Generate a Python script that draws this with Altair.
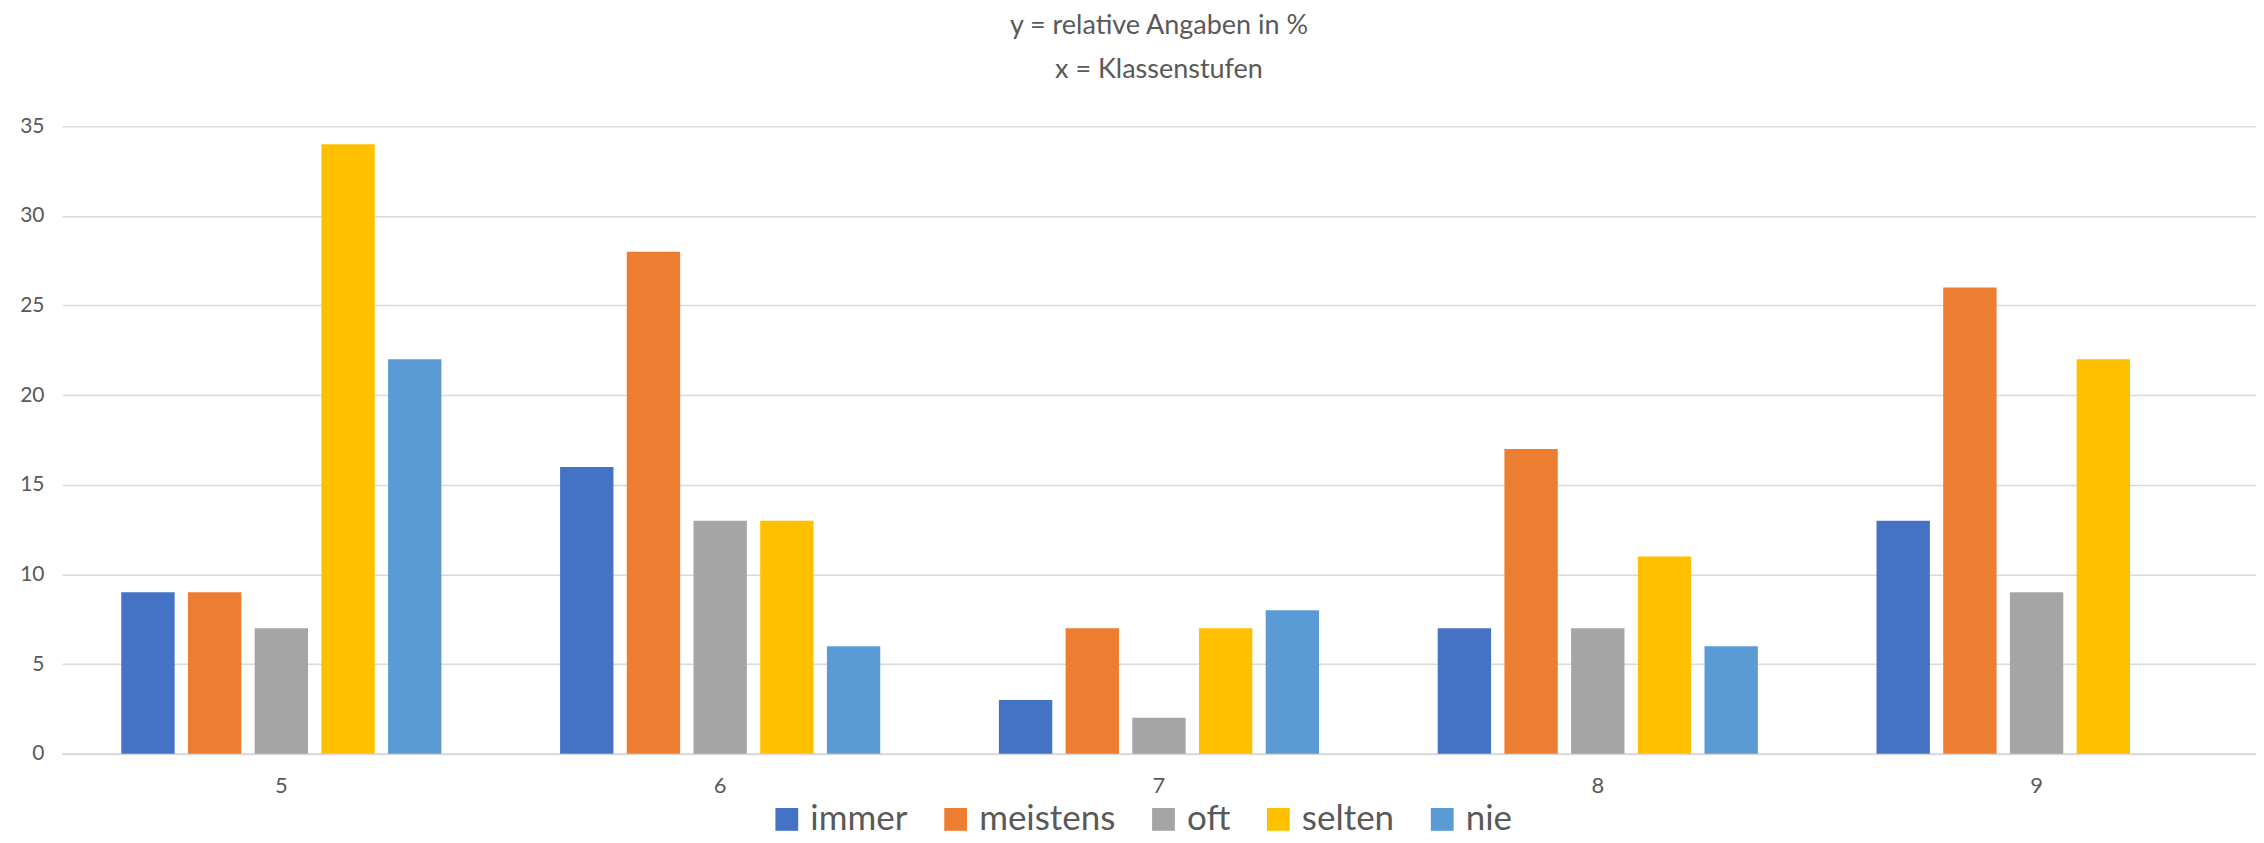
import altair as alt
import pandas as pd

klassen = ["5", "6", "7", "8", "9"]
serien = ["immer", "meistens", "oft", "selten", "nie"]
immer = [9, 16, 3, 7, 13]
meistens = [9, 28, 7, 17, 26]
oft = [7, 13, 2, 7, 9]
selten = [34, 13, 7, 11, 22]
nie = [22, 6, 8, 6, None]
farben = ["#4472C4", "#ED7D31", "#A5A5A5", "#FFC000", "#5B9BD5"]
y_ticks = [0, 5, 10, 15, 20, 25, 30, 35]

rows = []
for name, vals in zip(serien, [immer, meistens, oft, selten, nie]):
    for k, v in zip(klassen, vals):
        if v is not None:
            rows.append({"Klasse": k, "Serie": name, "Wert": v})
df = pd.DataFrame(rows)

FONT = "Lato"
TXT = "#595959"

chart = alt.Chart(df).mark_bar().encode(
    x=alt.X("Klasse:N", sort=klassen, title=None,
            scale=alt.Scale(paddingInner=0.24, paddingOuter=0.12),
            axis=alt.Axis(labelAngle=0, labelFontSize=22, labelColor=TXT, labelFont=FONT,
                          ticks=False, domainColor="#D9D9D9", domainWidth=2,
                          labelPadding=22)),
    xOffset=alt.XOffset("Serie:N", sort=serien,
                        scale=alt.Scale(paddingInner=0.2, paddingOuter=0.1)),
    y=alt.Y("Wert:Q", title=None,
            scale=alt.Scale(domain=[0, 35], nice=False),
            axis=alt.Axis(values=y_ticks, labelFontSize=21, labelColor=TXT, labelFont=FONT,
                          ticks=False, domain=False, gridColor="#D9D9D9", gridWidth=1.5,
                          labelPadding=18)),
    color=alt.Color("Serie:N", sort=serien,
                    scale=alt.Scale(domain=serien, range=farben),
                    legend=alt.Legend(title=None, orient="none", direction="horizontal",
                                      legendX=708, legendY=676,
                                      symbolType="square", symbolSize=520,
                                      symbolStrokeWidth=0,
                                      labelFontSize=35, labelFont=FONT, labelColor=TXT,
                                      labelOffset=6, columnPadding=30)),
).properties(
    width=2196,
    height=628,
    title=alt.Title(["y = relative Angaben in %", "x = Klassenstufen"],
                    fontSize=27, font=FONT, color=TXT, fontWeight="normal",
                    lineHeight=44, anchor="middle", offset=31, dx=0),
    padding={"left": 54, "top": 118, "right": 0, "bottom": 89},
    autosize=alt.AutoSizeParams(type="none"),
).configure_view(stroke=None)

chart.save("out.html", embed_options={"renderer": "svg", "actions": False})
